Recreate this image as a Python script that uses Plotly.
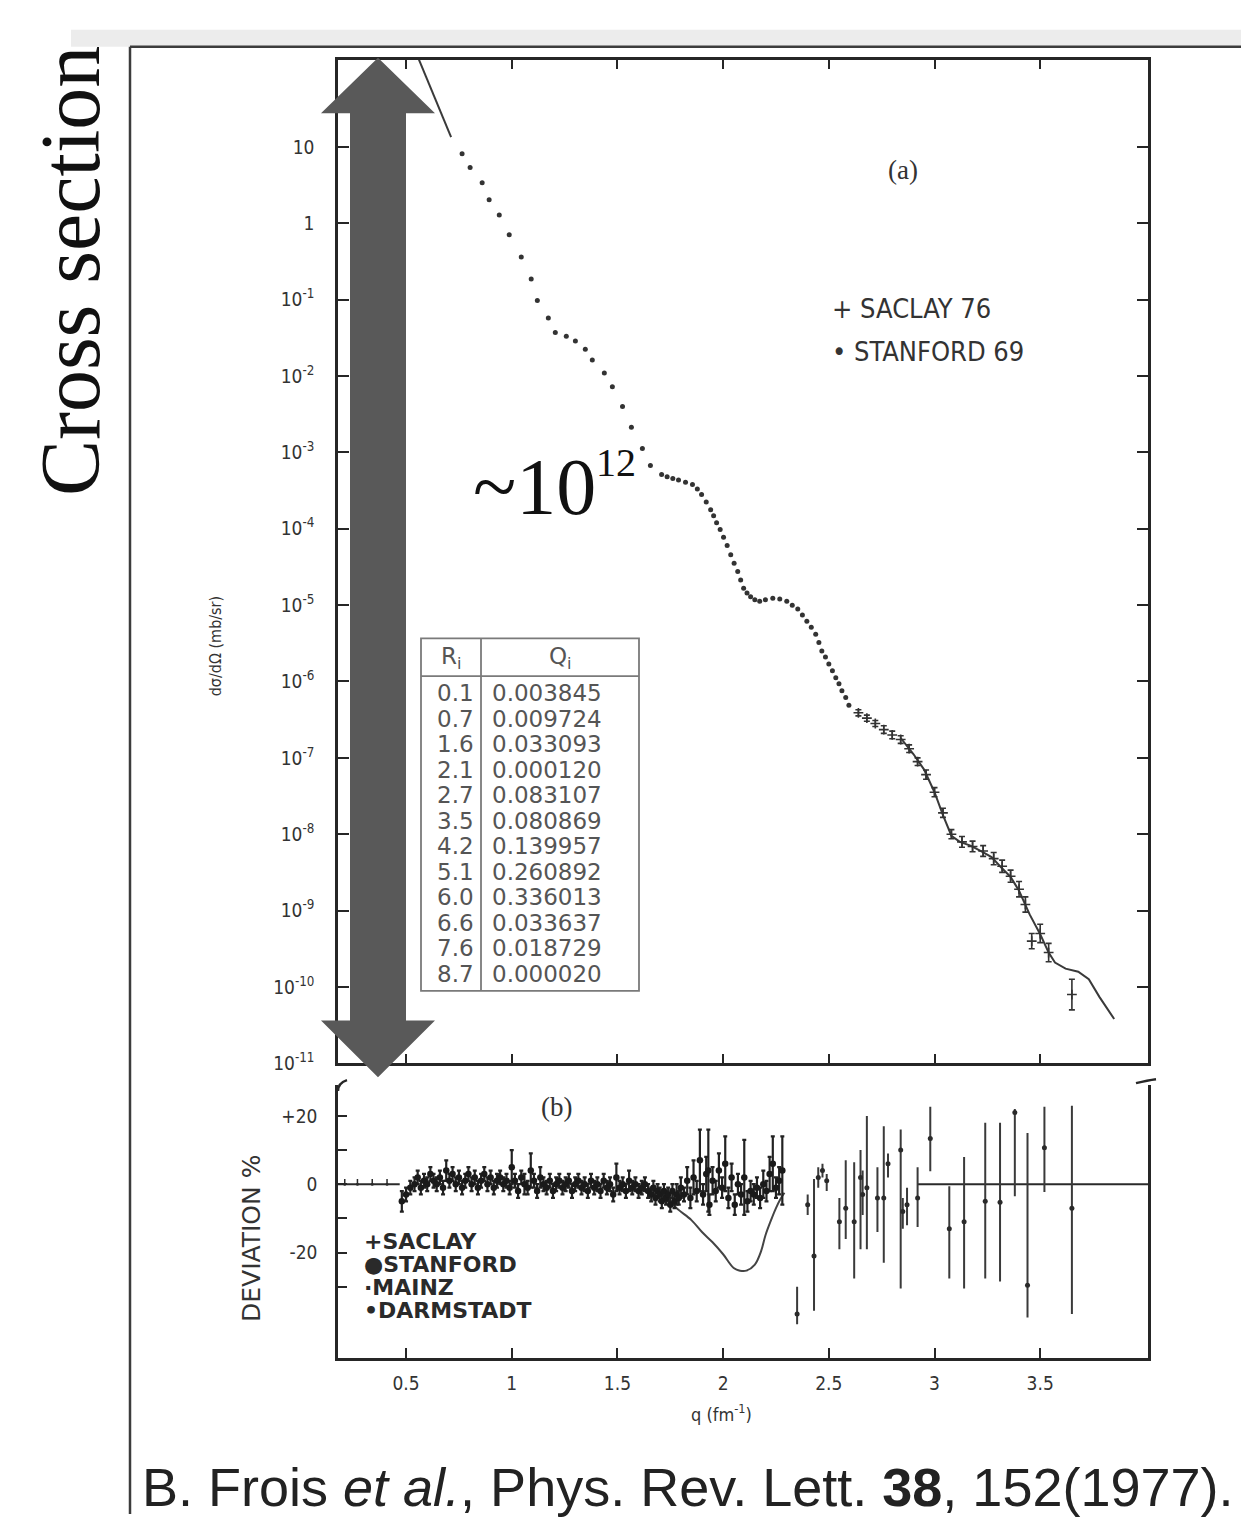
import plotly.graph_objects as go

W, H = 1249, 1517

# ---------------- data: panel (a) cross section (log10 of mb/sr) ----------------
stanford_q = [0.765, 0.803, 0.860, 0.893, 0.941, 0.988, 1.045, 1.092, 1.121, 1.173, 1.206,
              1.258, 1.301, 1.348, 1.381, 1.438, 1.476, 1.524, 1.566, 1.618, 1.656, 1.709,
              1.735, 1.762, 1.789, 1.822, 1.855, 1.878, 1.898, 1.920, 1.941, 1.955, 1.969,
              1.986, 2.002, 2.019, 2.036, 2.052, 2.069, 2.083, 2.097, 2.113, 2.130, 2.150,
              2.173, 2.200, 2.235, 2.268, 2.301, 2.327, 2.353, 2.375, 2.396, 2.417, 2.438,
              2.453, 2.467, 2.484, 2.500, 2.517, 2.533, 2.548, 2.562, 2.580, 2.595]
stanford_log10_xs = [0.91, 0.73, 0.53, 0.31, 0.11, -0.15, -0.44, -0.73, -1.01, -1.24, -1.43,
                     -1.48, -1.54, -1.65, -1.79, -1.96, -2.14, -2.40, -2.67, -2.95, -3.17, -3.29,
                     -3.32, -3.34, -3.36, -3.39, -3.42, -3.48, -3.55, -3.65, -3.75, -3.83, -3.92,
                     -4.01, -4.11, -4.22, -4.34, -4.45, -4.56, -4.67, -4.78, -4.84, -4.89, -4.93,
                     -4.95, -4.93, -4.91, -4.92, -4.95, -5.00, -5.05, -5.13, -5.21, -5.29, -5.38,
                     -5.49, -5.60, -5.68, -5.77, -5.86, -5.95, -6.03, -6.12, -6.21, -6.31]

saclay_q = [2.64, 2.68, 2.72, 2.76, 2.80, 2.84, 2.88, 2.92, 2.96, 3.00, 3.04, 3.08, 3.13,
            3.18, 3.23, 3.28, 3.32, 3.36, 3.40, 3.43, 3.46, 3.50, 3.54, 3.65]
saclay_log10_xs = [-6.41, -6.48, -6.55, -6.63, -6.70, -6.76, -6.88, -7.05, -7.22, -7.45, -7.72,
                   -8.00, -8.10, -8.16, -8.22, -8.32, -8.42, -8.55, -8.72, -8.92, -9.40, -9.30,
                   -9.55, -10.10]
saclay_log10_err = [0.04, 0.04, 0.04, 0.05, 0.05, 0.05, 0.05, 0.05, 0.06, 0.06, 0.06, 0.06, 0.07,
                    0.07, 0.07, 0.08, 0.08, 0.08, 0.10, 0.10, 0.10, 0.12, 0.12, 0.20]

fit_low_q = [0.53, 0.713]
fit_low_log10_xs = [2.35, 1.13]
fit_high_q = [2.84, 2.90, 2.95, 3.00, 3.04, 3.08, 3.12, 3.17, 3.22, 3.27, 3.31, 3.36, 3.40,
              3.45, 3.50, 3.54, 3.57, 3.62, 3.68, 3.73, 3.78, 3.85]
fit_high_log10_xs = [-6.74, -6.95, -7.15, -7.45, -7.75, -8.02, -8.10, -8.15, -8.22, -8.30, -8.42,
                     -8.56, -8.74, -9.05, -9.31, -9.55, -9.68, -9.76, -9.80, -9.90, -10.13, -10.42]

y_tick_exp = [1, 0, -1, -2, -3, -4, -5, -6, -7, -8, -9, -10, -11]
y_tick_text = ["10", "1"] + ["10<sup>%d</sup>" % e for e in y_tick_exp[2:]]
x_tick_vals = [0.5, 1, 1.5, 2, 2.5, 3, 3.5]
x_tick_text = ["0.5", "1", "1.5", "2", "2.5", "3", "3.5"]

# table of fit parameters
table_R = ["0.1", "0.7", "1.6", "2.1", "2.7", "3.5", "4.2", "5.1", "6.0", "6.6", "7.6", "8.7"]
table_Q = ["0.003845", "0.009724", "0.033093", "0.000120", "0.083107", "0.080869",
           "0.139957", "0.260892", "0.336013", "0.033637", "0.018729", "0.000020"]

# ---------------- data: panel (b) deviation % ----------------
dense_q = [0.48, 0.50, 0.52, 0.54, 0.555, 0.57, 0.585, 0.60, 0.615, 0.63, 0.645, 0.66, 0.675,
           0.69, 0.705, 0.72, 0.735, 0.75, 0.765, 0.78, 0.795, 0.81, 0.825, 0.84, 0.855, 0.87,
           0.885, 0.90, 0.915, 0.93, 0.945, 0.96, 0.975, 0.99, 1.00, 1.015, 1.03, 1.045, 1.06,
           1.075, 1.09, 1.105, 1.12, 1.135, 1.15, 1.165, 1.18, 1.195, 1.21, 1.225, 1.24, 1.255,
           1.27, 1.285, 1.30, 1.315, 1.33, 1.345, 1.36, 1.375, 1.39, 1.405, 1.42, 1.435, 1.45,
           1.465, 1.48, 1.495, 1.51, 1.525, 1.54, 1.555, 1.57, 1.585, 1.60, 1.615, 1.63, 1.645,
           1.66, 1.67, 1.68, 1.69, 1.70, 1.71, 1.72, 1.73, 1.74, 1.75, 1.76, 1.77, 1.78, 1.79,
           1.80, 1.815, 1.83, 1.845, 1.86, 1.875, 1.89, 1.905, 1.92, 1.93, 1.935, 1.95, 1.965,
           1.98, 1.995, 2.01, 2.025, 2.04, 2.055, 2.07, 2.085, 2.10, 2.115, 2.13, 2.145, 2.16,
           2.175, 2.19, 2.205, 2.22, 2.235, 2.25, 2.265, 2.28]
dense_dev = [-5, -3, -1, 0, 2, -1, 1, 0, 3, 1, 0, 2, -1,
             4, 1, 3, 0, 2, -1, 1, 3, 0, 2, -1, 1, 3,
             0, 2, -1, 1, 2, 0, 1, -1, 5, 1, -2, 2, 0,
             -1, 4, 1, -2, 2, 0, -1, 1, -2, 0, 1, -1, 0,
             1, -2, 0, 1, -1, 0, -2, 1, -1, 0, -2, 1, -1,
             0, -3, 2, -1, 0, -2, 1, -1, 0, -2, -1, 0, -2,
             -3, -1, -4, -2, -3, -5, -2, -4, -3, -6, -2, -5, -3, -4,
             -1, -3, 1, -4, 2, -2, 7, -3, 3, 4, -6, 1, -2,
             4, -1, 6, -4, 2, -6, 0, -3, 2, -5, -2, -3, -1,
             -4, 0, -2, 3, 6, -1, 1, 4]
dense_err = [3, 2, 2, 2, 2, 2, 2, 2, 2, 2, 2, 2, 2,
             3, 2, 2, 2, 2, 2, 2, 2, 2, 2, 2, 2, 2,
             2, 2, 2, 2, 2, 2, 2, 2, 5, 2, 2, 2, 3,
             2, 5, 2, 2, 3, 2, 2, 2, 2, 2, 2, 2, 2,
             2, 2, 2, 2, 2, 2, 2, 2, 2, 2, 2, 2, 2,
             2, 2, 4, 2, 2, 2, 3, 2, 2, 2, 2, 2, 2,
             2, 2, 2, 2, 2, 2, 2, 2, 2, 2, 2, 2, 3, 2,
             3, 2, 4, 3, 5, 3, 9, 3, 5, 12, 3, 4, 3,
             5, 3, 8, 3, 4, 3, 3, 3, 11, 3, 3, 3, 3,
             3, 4, 3, 5, 8, 3, 4, 10]

flat_q = [0.21, 0.27, 0.34, 0.41]
flat_dev = [0, 0, 0, 0]
flat_err = [1.5, 1.5, 1.5, 1.5]

sparse_q = [2.35, 2.40, 2.43, 2.45, 2.47, 2.49, 2.55, 2.58, 2.62, 2.65, 2.66, 2.68, 2.73,
            2.76, 2.78, 2.84, 2.85, 2.87, 2.92, 2.98, 3.07, 3.14, 3.24, 3.31, 3.38, 3.44,
            3.52, 3.65]
sparse_dev = [-38, -6, -21, 2, 4, 1, -11, -7, -11, 2, -3, -1, -4,
              -4, 6, 10, -8, -6, -4, 13.4, -13, -11, -5, -5.3, 21, -29.6,
              10.7, -7]
sparse_err_minus = [3, 3, 16, 3, 2, 3, 8, 9, 16.6, 21, 6, 18, 10,
                    19, 4, 40.5, 5, 6, 8.5, 9.6, 14.6, 19.5, 22.6, 23.2, 24.5, 9.4,
                    13, 31]
sparse_err_plus = [8, 3, 22.5, 3, 2, 2, 7, 14, 17.4, 8, 7, 21, 9,
                   21, 3, 6, 4, 5, 9, 9.3, 12.4, 19, 23, 23.3, 1, 44.6,
                   12, 30]

dip_q = [1.74, 1.78, 1.85, 1.90, 1.95, 2.00, 2.05, 2.08, 2.11, 2.15, 2.18, 2.20, 2.23,
         2.25, 2.27, 2.29]
dip_dev = [-4, -7, -10.5, -14, -17, -20.5, -24.5, -25.3, -25.3, -23.5, -19.5, -15, -10,
           -7, -4.5, -2.5]
ref_low_q = [0.178, 0.47]
ref_high_q = [2.92, 4.01]
ref_dev = [0, 0]

# ---------------- helpers ----------------
def px(X):
    return X / W


def py(Y):
    return 1 - Y / H


INK = "#262626"
FONT_AX = "Liberation Sans Narrow, DejaVu Sans Condensed, Liberation Sans, sans-serif"

# panel pixel geometry
AX_L, AX_R = 330, 1140
A_TOP, A_BOT = 52, 1063
B_TOP, B_BOT = 1085, 1360

fig = go.Figure()

pow10 = lambda arr: [10 ** v for v in arr]

# panel (a)
fig.add_trace(go.Scatter(x=fit_low_q, y=pow10(fit_low_log10_xs), mode="lines",
                         line=dict(color="#3a3a3a", width=2), xaxis="x", yaxis="y",
                         showlegend=False, hoverinfo="skip"))
fig.add_trace(go.Scatter(x=fit_high_q, y=pow10(fit_high_log10_xs), mode="lines",
                         line=dict(color="#3a3a3a", width=2), xaxis="x", yaxis="y",
                         showlegend=False, hoverinfo="skip"))
fig.add_trace(go.Scatter(x=stanford_q, y=pow10(stanford_log10_xs), mode="markers",
                         marker=dict(color="#333333", size=5), xaxis="x", yaxis="y",
                         showlegend=False))
sac_y = pow10(saclay_log10_xs)
sac_plus = [10 ** (v + e) - 10 ** v for v, e in zip(saclay_log10_xs, saclay_log10_err)]
sac_minus = [10 ** v - 10 ** (v - e) for v, e in zip(saclay_log10_xs, saclay_log10_err)]
fig.add_trace(go.Scatter(x=saclay_q, y=sac_y, mode="markers",
                         marker=dict(color="#333333", size=7, symbol="cross-thin",
                                     line=dict(color="#333333", width=1.6)),
                         error_y=dict(type="data", array=sac_plus, arrayminus=sac_minus,
                                      color="#333333", thickness=1.6, width=3),
                         xaxis="x", yaxis="y", showlegend=False))

# panel (b)
fig.add_trace(go.Scatter(x=ref_low_q, y=ref_dev, mode="lines",
                         line=dict(color="#2a2a2a", width=2), xaxis="x2", yaxis="y2",
                         showlegend=False, hoverinfo="skip"))
fig.add_trace(go.Scatter(x=ref_high_q, y=ref_dev, mode="lines",
                         line=dict(color="#2a2a2a", width=2), xaxis="x2", yaxis="y2",
                         showlegend=False, hoverinfo="skip"))
fig.add_trace(go.Scatter(x=dip_q, y=dip_dev, mode="lines", line_shape="spline",
                         line=dict(color="#444444", width=2), xaxis="x2", yaxis="y2",
                         showlegend=False, hoverinfo="skip"))
fig.add_trace(go.Scatter(x=flat_q, y=flat_dev, mode="markers",
                         marker=dict(color="#2a2a2a", size=3),
                         error_y=dict(type="data", array=flat_err, arrayminus=[0] * 4,
                                      color="#2a2a2a", thickness=1.5, width=0),
                         xaxis="x2", yaxis="y2", showlegend=False))
fig.add_trace(go.Scatter(x=dense_q, y=dense_dev, mode="markers",
                         marker=dict(color="#1a1a1a", size=6.5),
                         error_y=dict(type="data", array=dense_err, color="#222222",
                                      thickness=2.2, width=2),
                         xaxis="x2", yaxis="y2", showlegend=False))
fig.add_trace(go.Scatter(x=sparse_q, y=sparse_dev, mode="markers",
                         marker=dict(color="#2a2a2a", size=5),
                         error_y=dict(type="data", array=sparse_err_plus,
                                      arrayminus=sparse_err_minus, color="#3a3a3a",
                                      thickness=2, width=0),
                         xaxis="x2", yaxis="y2", showlegend=False))

# ---------------- layout ----------------
dom_x = [px(AX_L), px(AX_R)]
axis_common = dict(showgrid=False, zeroline=False, showline=True, linecolor=INK,
                   linewidth=2.5, ticks="inside", tickcolor=INK, tickwidth=2)

fig.update_layout(
    width=W, height=H, margin=dict(l=0, r=0, t=0, b=0),
    paper_bgcolor="white", plot_bgcolor="white", showlegend=False,
    xaxis=dict(domain=dom_x, range=[0.178, 4.01], anchor="y", mirror="ticks",
               tickmode="array", tickvals=x_tick_vals, ticklen=10,
               showticklabels=False, **axis_common),
    yaxis=dict(domain=[py(A_BOT), py(A_TOP)], type="log", range=[-11, 2.144], anchor="x",
               mirror="ticks", tickmode="array", tickvals=[10.0 ** e for e in y_tick_exp],
               ticktext=y_tick_text, ticklen=11, ticklabelstandoff=17,
               tickfont=dict(family=FONT_AX, size=19, color="#333333"), **axis_common),
    xaxis2=dict(domain=dom_x, range=[0.178, 4.01], anchor="y2", mirror=False,
                tickmode="array", tickvals=x_tick_vals, ticktext=x_tick_text, ticklen=10,
                ticklabelstandoff=6,
                tickfont=dict(family=FONT_AX, size=19, color="#333333"), **axis_common),
    yaxis2=dict(domain=[py(B_BOT), py(B_TOP)], range=[-50.9, 29], anchor="x2", mirror=True,
                tickmode="array", tickvals=[-30, -20, -10, 0, 10, 20],
                ticktext=["", "-20", "", "0", "", "+20"], ticklen=9, ticklabelstandoff=14,
                tickfont=dict(family=FONT_AX, size=19, color="#333333"), **axis_common),
)

shapes = []
# gray strip and outer frame
shapes.append(dict(type="rect", xref="paper", yref="paper", x0=px(63), x1=1, y0=py(39),
                   y1=py(22), fillcolor="#ececec", line=dict(width=0), layer="below"))
for (x0, y0, x1, y1) in [(122, 39, 1240, 39), (122, 39, 122, H), (1240, 39, 1240, H)]:
    shapes.append(dict(type="line", xref="paper", yref="paper", x0=px(x0), y0=py(y0),
                       x1=px(x1), y1=py(y1), line=dict(color="#3c3c3c", width=2.5)))
# small hooks at the open top of panel (b)
shapes.append(dict(type="path", xref="paper", yref="paper",
                   path="M %.5f,%.5f Q %.5f,%.5f %.5f,%.5f" % (
                       px(AX_L), py(B_TOP + 6), px(AX_L), py(B_TOP - 2), px(AX_L + 9), py(B_TOP - 5)),
                   line=dict(color=INK, width=2.5)))
shapes.append(dict(type="path", xref="paper", yref="paper",
                   path="M %.5f,%.5f Q %.5f,%.5f %.5f,%.5f" % (
                       px(AX_R - 12), py(B_TOP - 2), px(AX_R), py(B_TOP - 5), px(AX_R + 8), py(B_TOP - 6)),
                   line=dict(color=INK, width=2.5)))

# table of R_i / Q_i
T_L, T_R, T_T, T_B, T_MID, T_HDR = 413, 631, 635, 990, 473, 673
shapes.append(dict(type="rect", xref="paper", yref="paper", x0=px(T_L), x1=px(T_R),
                   y0=py(T_B), y1=py(T_T), fillcolor="white",
                   line=dict(color="#7a7a7a", width=1.8), layer="above"))
shapes.append(dict(type="line", xref="paper", yref="paper", x0=px(T_MID), x1=px(T_MID),
                   y0=py(T_B), y1=py(T_T), line=dict(color="#7a7a7a", width=1.8)))
shapes.append(dict(type="line", xref="paper", yref="paper", x0=px(T_L), x1=px(T_R),
                   y0=py(T_HDR), y1=py(T_HDR), line=dict(color="#7a7a7a", width=1.8)))

# double-headed grey arrow (decoration)
cx, hw, sw = 370, 57, 28
top_tip, top_base, bot_base, bot_tip = 50, 106, 1020, 1077
pts = [(cx, top_tip), (cx + hw, top_base), (cx + sw, top_base), (cx + sw, bot_base),
       (cx + hw, bot_base), (cx, bot_tip), (cx - hw, bot_base), (cx - sw, bot_base),
       (cx - sw, top_base), (cx - hw, top_base)]
path = "M " + " L ".join("%.5f,%.5f" % (px(a), py(b)) for a, b in pts) + " Z"
shapes.append(dict(type="path", xref="paper", yref="paper", path=path,
                   fillcolor="#595959", line=dict(width=0), layer="above"))

fig.update_layout(shapes=shapes)

ann = []


def text(X, Y, s, size, family=FONT_AX, color="#333333", xanchor="center", angle=0):
    ann.append(dict(xref="paper", yref="paper", x=px(X), y=py(Y), text=s, showarrow=False,
                    xanchor=xanchor, yanchor="middle", textangle=angle,
                    font=dict(family=family, size=size, color=color)))


SERIF = "Liberation Serif, DejaVu Serif, serif"
text(62, 265, "Cross section", 84, family=SERIF, color="#111111", angle=-90)
text(590, 482, "~10", 80, family=SERIF, color="#111111", xanchor="right")
text(586, 458, "12", 40, family=SERIF, color="#111111", xanchor="left")
text(895, 163, "(a)", 27, family=SERIF, color="#333333")
text(822, 303, "+ SACLAY 76", 27, xanchor="left")
text(822, 346, "• STANFORD 69", 27, xanchor="left")
text(207, 643, "dσ/dΩ (mb/sr)", 16, angle=-90)

# table text
text(443, 655, "R<sub>i</sub>", 23, family="DejaVu Sans", color="#555555")
text(552, 655, "Q<sub>i</sub>", 23, family="DejaVu Sans", color="#555555")
for i, (r, q) in enumerate(zip(table_R, table_Q)):
    yy = 690 + i * 25.7
    text(468, yy, r, 23, family="DejaVu Sans", color="#555555", xanchor="right")
    text(482, yy, q, 23, family="DejaVu Sans", color="#555555", xanchor="left")

# panel (b) texts
LEG_B = "DejaVu Sans, sans-serif"
text(548, 1107, "(b)", 27, family=SERIF, color="#333333")
text(243, 1240, "DEVIATION %", 25, family=LEG_B, angle=-90)
text(354, 1243, "<b>+SACLAY</b>", 22, family=LEG_B, color="#2a2a2a", xanchor="left")
text(354, 1266, "<b>●STANFORD</b>", 22, family=LEG_B, color="#2a2a2a", xanchor="left")
text(354, 1289, "<b>·MAINZ</b>", 22, family=LEG_B, color="#2a2a2a", xanchor="left")
text(354, 1312, "<b>•DARMSTADT</b>", 22, family=LEG_B, color="#2a2a2a", xanchor="left")
text(713, 1415, "q (fm<sup>-1</sup>)", 18)

# citation
text(132, 1490, "B. Frois <i>et al.</i>, Phys. Rev. Lett. <b>38</b>, 152(1977).", 54,
     family="Liberation Sans, Arial, sans-serif", color="#222222", xanchor="left")

fig.update_layout(annotations=ann)

fig.write_html("out.html")
